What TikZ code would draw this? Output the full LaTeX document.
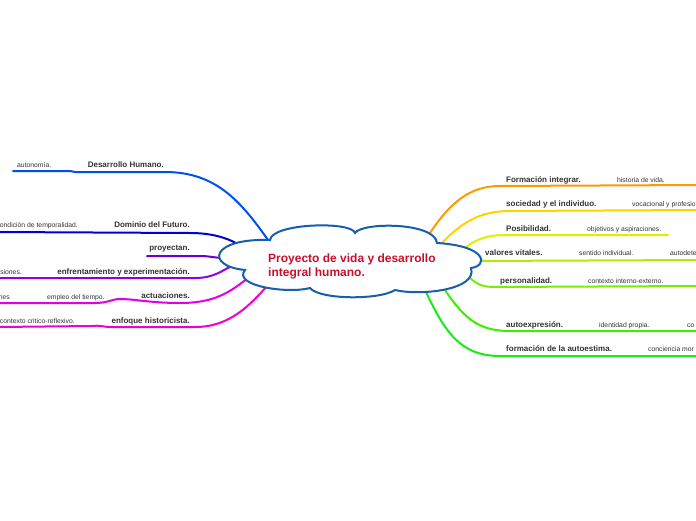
\documentclass[tikz,border=0pt]{standalone}
\usepackage{fontspec}
\setmainfont{Liberation Sans}
\definecolor{cloudline}{RGB}{22,95,170}
\definecolor{titlered}{RGB}{200,16,46}
\definecolor{labelgray}{RGB}{51,51,51}
\definecolor{cA}{RGB}{0,80,240}
\definecolor{cB}{RGB}{0,0,215}
\definecolor{cC}{RGB}{100,0,220}
\definecolor{cD}{RGB}{145,0,225}
\definecolor{cE}{RGB}{225,0,230}
\definecolor{cF}{RGB}{240,0,200}
\definecolor{rA}{RGB}{255,153,0}
\definecolor{rB}{RGB}{255,210,0}
\definecolor{rC}{RGB}{220,240,0}
\definecolor{rD}{RGB}{170,238,0}
\definecolor{rE}{RGB}{120,238,0}
\definecolor{rF}{RGB}{60,238,0}
\definecolor{rG}{RGB}{20,238,20}
\tikzset{
  branch/.style={line width=2pt, line cap=round, line join=round},
  mainlab/.style={inner sep=0pt, text=labelgray, font=\fontsize{8}{9.6}\selectfont\bfseries},
  sublab/.style={inner sep=0pt, text=labelgray, font=\fontsize{6.8}{8}\selectfont},
}
\begin{document}
\begin{tikzpicture}[x=1pt,y=-1pt]
\useasboundingbox (0,0) rectangle (696,520);
% coordinates
\coordinate (sL1) at (268,240); \coordinate (kL1) at (165,172); \coordinate (eL1) at (13,171);
\coordinate (sL2) at (238,244); \coordinate (kL2) at (190,233); \coordinate (eL2) at (-2,232);
\coordinate (sL3) at (224,258); \coordinate (kL3) at (200,256); \coordinate (eL3) at (147,256);
\coordinate (sL4) at (234,265); \coordinate (kL4) at (195,278); \coordinate (eL4) at (-2,278);
\coordinate (sL5) at (248,278); \coordinate (kL5) at (180,303); \coordinate (eL5) at (-2,303);
\coordinate (sL6) at (268,285); \coordinate (kL6) at (195,327); \coordinate (eL6) at (-2,327);
\coordinate (sR1) at (428,236); \coordinate (kR1) at (500,186); \coordinate (eR1) at (698,185);
\coordinate (sR2) at (440,245); \coordinate (kR2) at (510,211); \coordinate (eR2) at (698,210);
\coordinate (sR3) at (462,250); \coordinate (kR3) at (505,235); \coordinate (eR3) at (668,235);
\coordinate (sR4) at (475,261); \coordinate (eR4) at (698,260);
\coordinate (sR5) at (468,276); \coordinate (kR5) at (495,287); \coordinate (eR5) at (698,286);
\coordinate (sR6) at (445,290); \coordinate (kR6) at (510,331); \coordinate (eR6) at (698,331);
\coordinate (sR7) at (425,290); \coordinate (kR7) at (500,356); \coordinate (eR7) at (698,356);
% left branches
\draw[branch,cA] (sL1) .. controls (240,200) and (215,172) .. (kL1) -- (75,172) -- (70,171) -- (eL1);
\draw[branch,cB] (sL2) .. controls (225,237) and (210,233) .. (kL2) -- (eL2);
\draw[branch,cC] (sL3) .. controls (215,258) and (210,256) .. (kL3) -- (eL3);
\draw[branch,cD] (sL4) .. controls (222,270) and (215,278) .. (kL4) -- (eL4);
\draw[branch,cE] (sL5) .. controls (230,292) and (215,303) .. (kL5) .. controls (150,303) and (135,299) .. (120,299) .. controls (112,299) and (108,303) .. (95,303) -- (eL5);
\draw[branch,cF] (sL6) .. controls (250,305) and (230,327) .. (kL6) -- (110,327) .. controls (104,327) and (100,325) .. (92,326) -- (eL6);
% right branches
\draw[branch,rA] (sR1) .. controls (450,202) and (470,186) .. (kR1) -- (eR1);
\draw[branch,rB] (sR2) .. controls (460,224) and (478,211) .. (kR2) -- (eR2);
\draw[branch,rC] (sR3) .. controls (475,240) and (485,235) .. (kR3) -- (eR3);
\draw[branch,rD] (sR4) -- (eR4);
\draw[branch,rE] (sR5) .. controls (476,284) and (482,287) .. (kR5) -- (eR5);
\draw[branch,rF] (sR6) .. controls (465,320) and (480,331) .. (kR6) -- (eR6);
\draw[branch,rG] (sR7) .. controls (445,332) and (460,356) .. (kR7) -- (eR7);
% cloud
\draw[line width=2pt, cloudline, fill=white]
  (270,240) .. controls (272,223) and (352,221) .. (355,233)
  .. controls (362,222) and (435,222) .. (437,243)
  .. controls (488,246) and (488,266) .. (471,268)
  .. controls (478,290) and (420,296) .. (395,290)
  .. controls (380,300) and (320,300) .. (310,288)
  .. controls (288,294) and (232,286) .. (245,270)
  .. controls (205,266) and (210,238) .. cycle;
\node[inner sep=0pt, anchor=north west, align=left, text=titlered,
  font=\fontsize{12}{14.5}\selectfont\bfseries] (title) at (268,253.5)
  {Proyecto de vida y desarrollo\\integral humano.};
% left labels
\node[mainlab, anchor=base east] (l1) at (164,167) {Desarrollo Humano.};
\node[sublab, anchor=base west] (l1a) at (17,167) {autonomía.};
\node[mainlab, anchor=base east] (l2) at (190,227) {Dominio del Futuro.};
\node[sublab, anchor=base east] (l2a) at (78,227) {condición de temporalidad.};
\node[mainlab, anchor=base east] (l3) at (190,250) {proyectan.};
\node[mainlab, anchor=base east] (l4) at (190,274) {enfrentamiento y experimentación.};
\node[sublab, anchor=base east] (l4a) at (22,274) {siones.};
\node[mainlab, anchor=base east] (l5) at (190,298) {actuaciones.};
\node[sublab, anchor=base west] (l5a) at (47,299) {empleo del tiempo.};
\node[sublab, anchor=base east] (l5b) at (10,299) {nes};
\node[mainlab, anchor=base east] (l6) at (190,323) {enfoque historicista.};
\node[sublab, anchor=base east] (l6a) at (75,323) {contexto critico-reflexivo.};
% right labels
\node[mainlab, anchor=base west] (r1) at (506,182) {Formación integrar.};
\node[sublab, anchor=base west] (r1a) at (617,182) {historia de vida.};
\node[mainlab, anchor=base west] (r2) at (506,206) {sociedad y el individuo.};
\node[sublab, anchor=base west] (r2a) at (632,206) {vocacional y profesio};
\node[mainlab, anchor=base west] (r3) at (506,231) {Posibilidad.};
\node[sublab, anchor=base west] (r3a) at (587,231) {objetivos y aspiraciones.};
\node[mainlab, anchor=base west] (r4) at (485,255) {valores vitales.};
\node[sublab, anchor=base west] (r4a) at (579,255) {sentido individual.};
\node[sublab, anchor=base west] (r4b) at (670,255) {autodete};
\node[mainlab, anchor=base west] (r5) at (500,283) {personalidad.};
\node[sublab, anchor=base west] (r5a) at (588,283) {contexto interno-externo.};
\node[mainlab, anchor=base west] (r6) at (506,327) {autoexpresión.};
\node[sublab, anchor=base west] (r6a) at (599,327) {identidad propia.};
\node[sublab, anchor=base west] (r6b) at (687,327) {co};
\node[mainlab, anchor=base west] (r7) at (506,351) {formación de la autoestima.};
\node[sublab, anchor=base west] (r7a) at (648,351) {conciencia mor};
\end{tikzpicture}
\end{document}
